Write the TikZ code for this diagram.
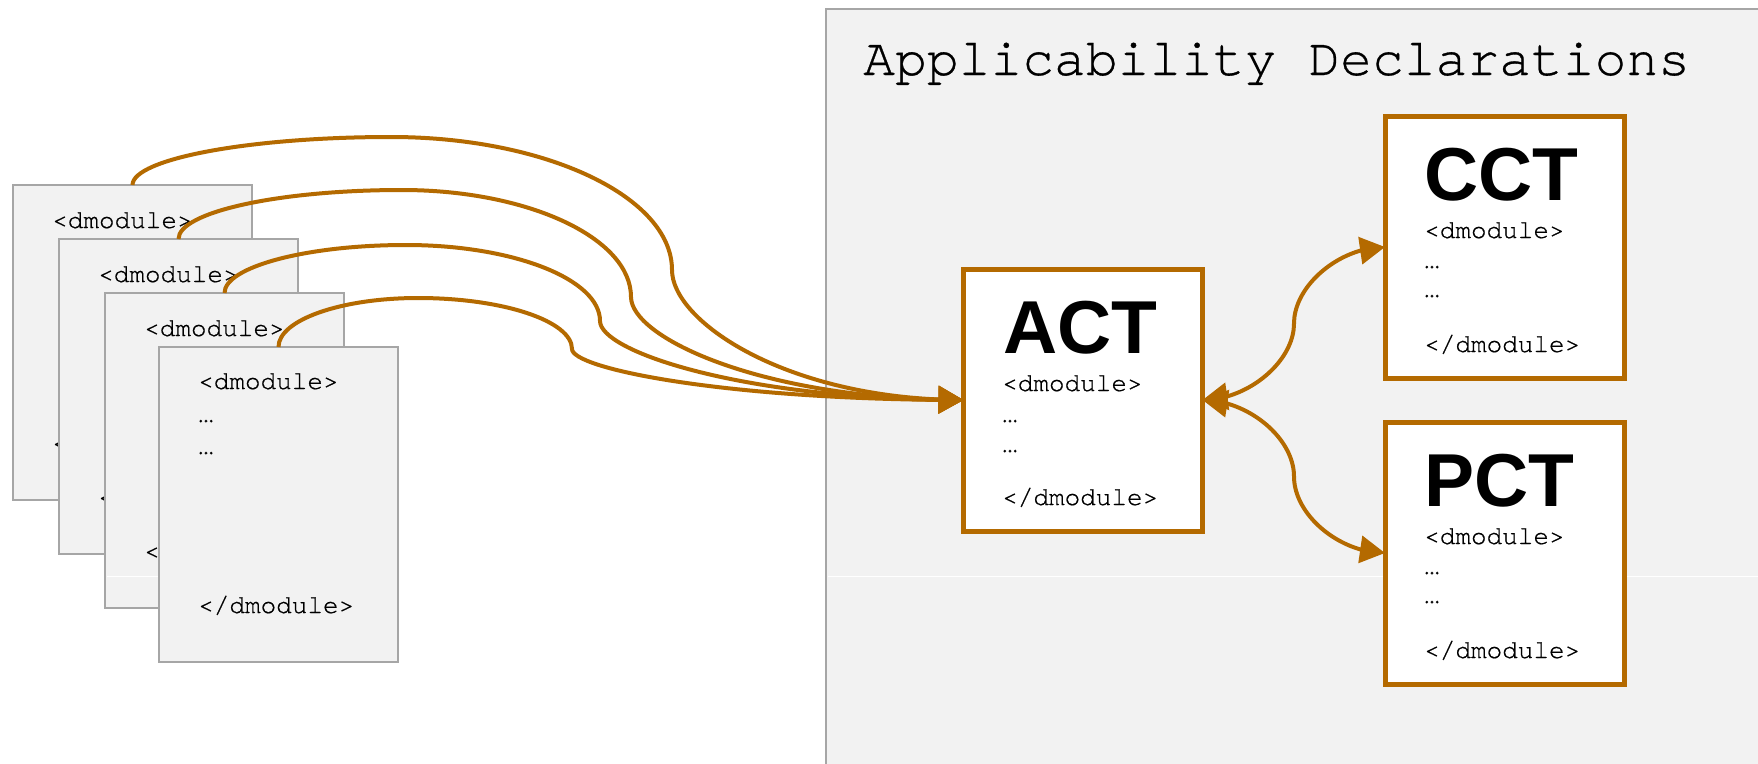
\documentclass[tikz,border=0pt]{standalone}
\usepackage{fontspec}
\setmainfont{Liberation Sans}
\newfontfamily\monof[FakeBold=0.6]{TeX Gyre Cursor}
\usetikzlibrary{arrows.meta,bending}
\definecolor{brn}{RGB}{180,106,0}
\definecolor{pagefill}{RGB}{242,242,242}
\definecolor{pageline}{RGB}{166,166,166}
\begin{document}
\begin{tikzpicture}[x=1pt,y=-1pt,
  page/.style={draw=pageline,fill=pagefill,line width=2.5pt,anchor=north west,
    minimum width=239pt,minimum height=315pt,inner sep=0pt,outer sep=0pt},
  ctbox/.style={draw=brn,fill=white,line width=5pt,anchor=north west,
    minimum width=239pt,minimum height=262pt,inner sep=0pt,outer sep=0pt},
  codetext/.style={anchor=base west,inner sep=0pt,font=\monof\fontsize{26}{26}\selectfont},
  bigtitle/.style={anchor=base west,inner sep=0pt,font=\bfseries\fontsize{75}{75}\selectfont},
  conn/.style={draw=brn,line width=4pt,-{Triangle[length=25pt,width=27pt]}},
  dconn/.style={draw=brn,line width=4pt,{Triangle[length=25pt,width=27pt]}-{Triangle[length=25pt,width=27pt]}},
  panelbox/.style={draw=pageline,fill=pagefill,line width=2.5pt}
]
\useasboundingbox (0,0) rectangle (1758,763);
\fill[white] (0,0) rectangle (1758,763);

% panel
\draw[panelbox] (826,9) rectangle (1790,800);
\node[anchor=base west,inner sep=0pt,font=\monof\fontsize{53}{53}\selectfont] (title) at (863,75) {Applicability Declarations};

% pages
\node[page] (p1) at (13,185) {};
\node[codetext] (p1a) at (52,228) {<dmodule>};
\node[codetext] (p1b) at (52,451) {</dmodule>};
\node[page] (p2) at (59,239) {};
\node[codetext] (p2a) at (98,282) {<dmodule>};
\node[codetext] (p2b) at (98,505) {</dmodule>};
\node[page] (p3) at (105,293) {};
\node[codetext] (p3a) at (144,336) {<dmodule>};
\node[codetext] (p3b) at (144,559) {</dmodule>};
\draw[white,line width=1pt] (107,576.5) -- (400,576.5);
\draw[white,line width=1pt] (828,576.5) -- (1758,576.5);
\node[page] (p4) at (159,347) {};
\node[codetext] (p4a) at (198,389) {<dmodule>};
\node[codetext] (p4b) at (198,422) {…};
\node[codetext] (p4c) at (198,454) {…};
\node[codetext] (p4d) at (198,613) {</dmodule>};

% ACT
\node[ctbox] (act) at (963.5,269) {};
\node[bigtitle] (actt) at (1003,353) {ACT};
\node[codetext] (acta) at (1002,391) {<dmodule>};
\node[codetext] (actb) at (1002,422) {…};
\node[codetext] (actc) at (1002,452) {…};
\node[codetext] (actd) at (1002,505) {</dmodule>};

% CCT
\node[ctbox] (cct) at (1385,116) {};
\node[bigtitle] (cctt) at (1424,200) {CCT};
\node[codetext] (ccta) at (1424,238) {<dmodule>};
\node[codetext] (cctb) at (1424,268) {…};
\node[codetext] (cctc) at (1424,297) {…};
\node[codetext] (cctd) at (1424,352) {</dmodule>};

% PCT
\node[ctbox] (pct) at (1385,422) {};
\node[bigtitle] (pctt) at (1424,506) {PCT};
\node[codetext] (pcta) at (1424,544) {<dmodule>};
\node[codetext] (pctb) at (1424,574) {…};
\node[codetext] (pctc) at (1424,603) {…};
\node[codetext] (pctd) at (1424,658) {</dmodule>};

% curve waypoints
\coordinate (P1) at (391,137);  \coordinate (V1) at (672,270);
\coordinate (P2) at (402,190);  \coordinate (V2) at (631,297);
\coordinate (P3) at (406,245);  \coordinate (V3) at (600,321);
\coordinate (P4) at (418,298);  \coordinate (V4) at (572,349);
\coordinate (M1) at (1294,323.5);
\coordinate (M2) at (1294,476.5);

\draw[conn] (p1.north) .. controls +(0,-26) and +(-142,0) .. (P1)
  .. controls +(155,0) and +(0,-73) .. (V1)
  .. controls +(0,52) and +(-175,0) .. (act.west);
\draw[conn] (p2.north) .. controls +(0,-27) and +(-123,0) .. (P2)
  .. controls +(126,0) and +(0,-59) .. (V2)
  .. controls +(0,41) and +(-200,0) .. (act.west);
\draw[conn] (p3.north) .. controls +(0,-26) and +(-100,0) .. (P3)
  .. controls +(107,0) and +(0,-42) .. (V3)
  .. controls +(0,31) and +(-218,0) .. (act.west);
\draw[conn] (p4.north) .. controls +(0,-27) and +(-77,0) .. (P4)
  .. controls +(85,0) and +(0,-28) .. (V4)
  .. controls +(0,20) and +(-235,0) .. (act.west);

\draw[dconn] (act.east) .. controls +(45.5,0) and +(0,38) .. (M1)
  .. controls +(0,-38) and +(-45.5,0) .. (cct.west);
\draw[dconn] (act.east) .. controls +(45.5,0) and +(0,-38.5) .. (M2)
  .. controls +(0,38.5) and +(-45.5,0) .. (pct.west);
\end{tikzpicture}
\end{document}
